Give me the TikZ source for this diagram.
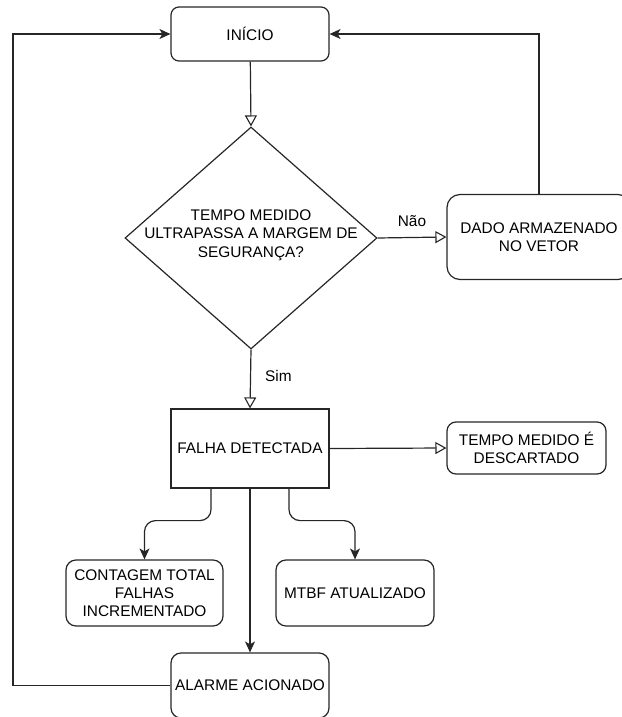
\documentclass[tikz,border=0pt]{standalone}
\usepackage{fontspec}
\setmainfont{Liberation Sans}
\usetikzlibrary{arrows.meta,shapes.geometric}

\tikzset{
  lbl/.style={font=\fontsize{15.4}{18.3}\selectfont, align=center, inner sep=0pt},
  flowbox/.style={draw=black!85, line width=1.2pt, lbl},
  roundbox/.style={flowbox, rounded corners=#1},
  roundbox/.default=9pt,
  decision/.style={draw=black!85, line width=1.2pt, diamond, inner sep=0pt},
  conn/.style={draw=black!85, line width=1.2pt},
  openarrow/.style={conn, -{Triangle[open, length=11pt, width=12pt, line width=1.1pt]}},
  solidarrow/.style={conn, -{Stealth[length=11pt, width=10pt, inset=3pt]}},
}

\begin{document}
\begin{tikzpicture}[x=1pt, y=-1pt]
  \useasboundingbox (0,0) rectangle (621,717);

  % process boxes
  \node[roundbox=8pt, minimum width=158pt, minimum height=54pt] (start) at (250,34) {INÍCIO};
  \node[decision, minimum width=252pt, minimum height=222pt] (dec) at (251,238) {};
  \node[lbl] (dectext) at (251,235) {TEMPO MEDIDO\\ULTRAPASSA A MARGEM DE\\SEGURANÇA?};
  \node[roundbox=13pt, minimum width=184pt, minimum height=85pt] (dado) at (539,237) {DADO ARMAZENADO\\NO VETOR};
  \node[flowbox, minimum width=158pt, minimum height=79pt] (falha) at (250,448.5) {FALHA DETECTADA};
  \node[roundbox=9pt, minimum width=159pt, minimum height=52pt] (desc) at (526.5,448) {TEMPO MEDIDO É\\DESCARTADO};
  \node[roundbox=10pt, minimum width=157pt, minimum height=66pt] (cont) at (144.5,593) {CONTAGEM TOTAL\\FALHAS\\INCREMENTADO};
  \node[roundbox=10pt, minimum width=158pt, minimum height=66pt] (mtbf) at (355,593) {MTBF ATUALIZADO};
  \node[roundbox=10pt, minimum width=158pt, minimum height=65pt] (alarme) at (250,685.5) {ALARME ACIONADO};

  % free corner of the return loop
  \coordinate (loopcorner) at (13,685.5);

  % connectors
  \draw[openarrow] (start) -- (dec.north);
  \draw[openarrow] (dec.east) -- node[lbl, above=10pt] (nao) {Não} (dado.west);
  \draw[openarrow] (dec.south) -- node[lbl, right=14pt, pos=0.45] (sim) {Sim} (falha.north);
  \draw[openarrow] (falha.east) -- (desc.west);
  \draw[solidarrow, rounded corners=11pt] ([xshift=-39pt]falha.south) -- ++(0,32) -| (cont.north);
  \draw[solidarrow, rounded corners=11pt] ([xshift=39pt]falha.south) -- ++(0,32) -| (mtbf.north);
  \draw[solidarrow] (falha.south) -- (alarme.north);
  \draw[solidarrow] (dado.north) |- (start.east);
  \draw[solidarrow] (alarme.west) -- (loopcorner) |- (start.west);
\end{tikzpicture}
\end{document}
